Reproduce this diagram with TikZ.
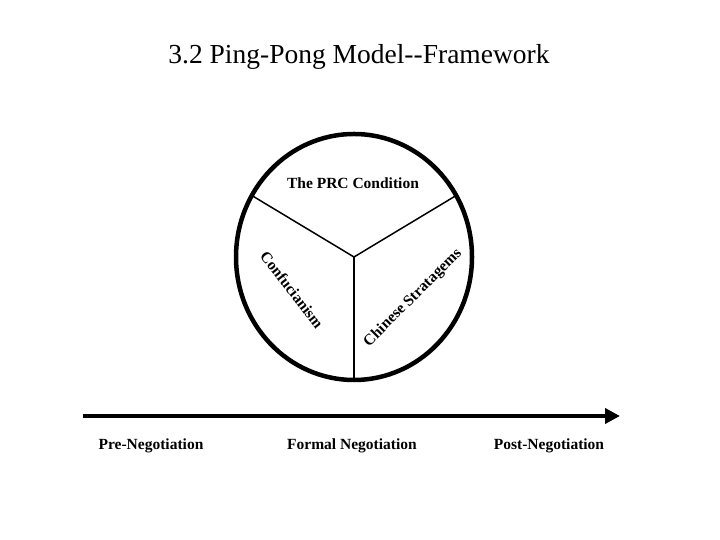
\documentclass[tikz,border=0pt]{standalone}
\usepackage{fontspec}
\setmainfont{Liberation Serif}
\usepackage{tikz}
\usetikzlibrary{arrows.meta,positioning}

\begin{document}
\begin{tikzpicture}[x=1pt,y=1pt]
    \tikzset{part/.style={font=\fontsize{15.5}{18}\selectfont\bfseries,inner sep=0pt},
             phase/.style={font=\fontsize{15.5}{18}\selectfont\bfseries,inner sep=0pt}}
    \useasboundingbox (0,0) rectangle (720,540);
    \node[font=\fontsize{27.5}{32}\selectfont,inner sep=0pt] (title) at (359,483) {3.2 Ping-Pong Model-{}-Framework};
    % the model circle
    \coordinate (ctr) at (354,283);
    \draw[line width=4.5pt] (ctr) ellipse [x radius=118, y radius=123];
    \foreach \a in {30,150,270}{ \draw[line width=1.5pt] (ctr) -- ++(\a:118 and 123); }
    \node[part] (prc) at (353,357) {The PRC Condition};
    \node[part,rotate=-52] (conf) at (292,250) {Confucianism};
    \node[part,rotate=45] (strat) at (413,242) {Chinese Stratagems};
    % negotiation timeline
    \coordinate (tstart) at (83,124);
    \coordinate (tend) at (620,124);
    \draw[line width=4.5pt,-{Triangle[length=15pt,width=15pt]}] (tstart) -- (tend);
    \node[phase] (pre) at (151,94) {Pre-Negotiation};
    \node[phase] (formal) at (352,94) {Formal Negotiation};
    \node[phase] (post) at (549,94) {Post-Negotiation};
  \end{tikzpicture}
\end{document}
